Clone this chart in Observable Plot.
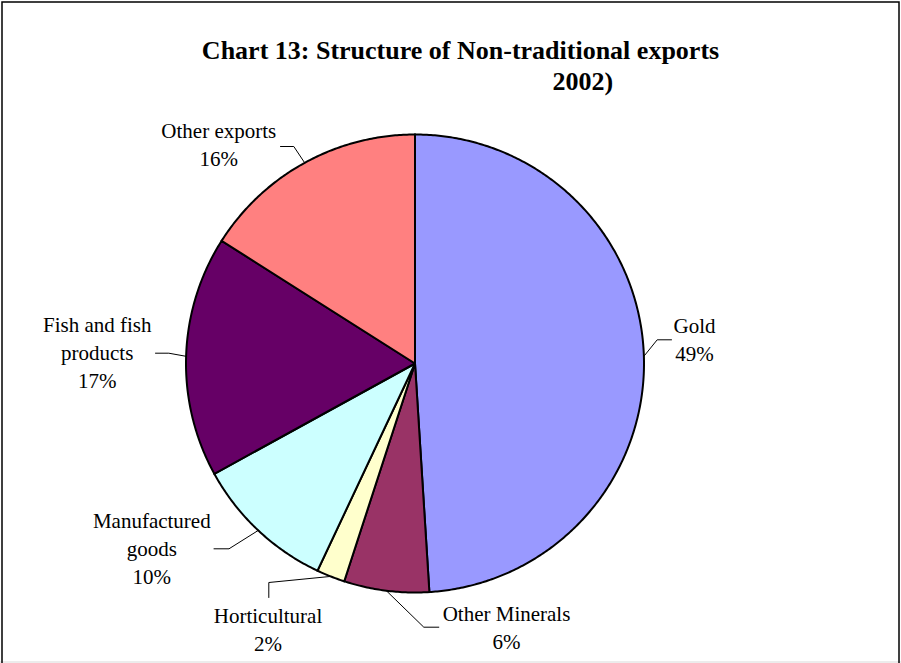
<!DOCTYPE html>
<html><head><meta charset="utf-8">
<script src="https://cdn.jsdelivr.net/npm/d3@7"></script>
<script src="https://cdn.jsdelivr.net/npm/@observablehq/plot@0.6"></script>
<style>html,body{margin:0;padding:0;background:#fff}#chart svg{display:block}</style>
</head><body><div id="chart"></div>
<script>
// ---- data ----
const categories = ["Gold", "Other Minerals", "Horticultural", "Manufactured goods", "Fish and fish products", "Other exports"];
const shares = [49, 6, 2, 10, 17, 16];
const colors = ["#9999FF", "#993366", "#FFFFCC", "#CCFFFF", "#660066", "#FF8080"];
const titleLines = ["Chart 13: Structure of Non-traditional exports", "2002)"];
const labelLines = [["Gold"], ["Other Minerals"], ["Horticultural"], ["Manufactured", "goods"], ["Fish and fish", "products"], ["Other exports"]];

// ---- layout ----
const W = 901, H = 663;
const cx = 414.5, cy = 363, R = 229;
const labelFont = 21, labelLH = 28;
// label centre x, baseline of last line, leader elbow and leader end
const labelLayout = [
  {x: 694,   y: 360, elbow: [656.7, 339.3], end: [671, 339.3]},
  {x: 506,   y: 648, elbow: [423.3, 626.7], end: [438.3, 626.7]},
  {x: 267.5, y: 650, elbow: [268.3, 582],   end: [268.3, 597]},
  {x: 151.3, y: 583, elbow: [228.5, 548.3], end: [213.5, 548.3]},
  {x: 96.7,  y: 387, elbow: [168.3, 352.7], end: [155, 352.7]},
  {x: 218.3, y: 165, elbow: [293.3, 146],   end: [280, 146]}
];

const arcs = d3.pie().sort(null).startAngle(0).endAngle(2 * Math.PI)(shares);
const px = a => cx + R * Math.sin(a);
const py = a => cy - R * Math.cos(a);

const sliceMarks = arcs.map((a, i) => {
  const pts = [{x: cx, y: cy}];
  const n = Math.max(2, Math.ceil((a.endAngle - a.startAngle) / (Math.PI / 360)));
  for (let k = 0; k <= n; ++k) {
    const t = a.startAngle + (a.endAngle - a.startAngle) * k / n;
    pts.push({x: px(t), y: py(t)});
  }
  pts.push({x: cx, y: cy});
  return Plot.line(pts, {x: "x", y: "y", fill: colors[i], stroke: "black", strokeWidth: 2, strokeLinejoin: "miter", strokeMiterlimit: 4, curve: "linear"});
});

const leaderMarks = arcs.map((a, i) => {
  const mid = (a.startAngle + a.endAngle) / 2;
  const L = labelLayout[i];
  const pts = [{x: px(mid), y: py(mid)}, {x: L.elbow[0], y: L.elbow[1]}, {x: L.end[0], y: L.end[1]}];
  return Plot.line(pts, {x: "x", y: "y", stroke: "black", strokeWidth: 1, strokeLinejoin: "miter"});
});

const labels = categories.map((c, i) => ({
  x: labelLayout[i].x,
  y: labelLayout[i].y,
  text: [...labelLines[i], shares[i] + "%"].join("\n")
}));

const titleRows = [
  {x: 460, y: 58, text: titleLines[0], anchor: "middle"},
  {x: 552, y: 89, text: titleLines[1], anchor: "start"}
];

const chart = Plot.plot({
  width: W, height: H,
  margin: 0,
  x: {type: "identity", axis: null},
  y: {type: "identity", axis: null},
  marks: [
    ...sliceMarks,
    ...leaderMarks,
    Plot.text(labels, {x: "x", y: "y", text: "text", textAnchor: "middle", lineAnchor: "bottom",
      lineHeight: labelLH / labelFont, fontSize: labelFont, fontFamily: "Liberation Serif", fill: "black"}),
    Plot.text(titleRows.filter(d => d.anchor === "middle"), {x: "x", y: "y", text: "text", textAnchor: "middle", lineAnchor: "bottom",
      fontSize: 26, fontWeight: "bold", fontFamily: "Liberation Serif", fill: "black"}),
    Plot.text(titleRows.filter(d => d.anchor === "start"), {x: "x", y: "y", text: "text", textAnchor: "start", lineAnchor: "bottom",
      fontSize: 26, fontWeight: "bold", fontFamily: "Liberation Serif", fill: "black"}),
    Plot.ruleY([661.5], {stroke: "#d9d9d9", strokeWidth: 1}),
    Plot.frame({stroke: "black", strokeWidth: 1.5, insetLeft: 1.5, insetTop: 1.5, insetRight: 2.5, insetBottom: -10})
  ]
});
document.getElementById("chart").appendChild(chart);
</script>
</body></html>
